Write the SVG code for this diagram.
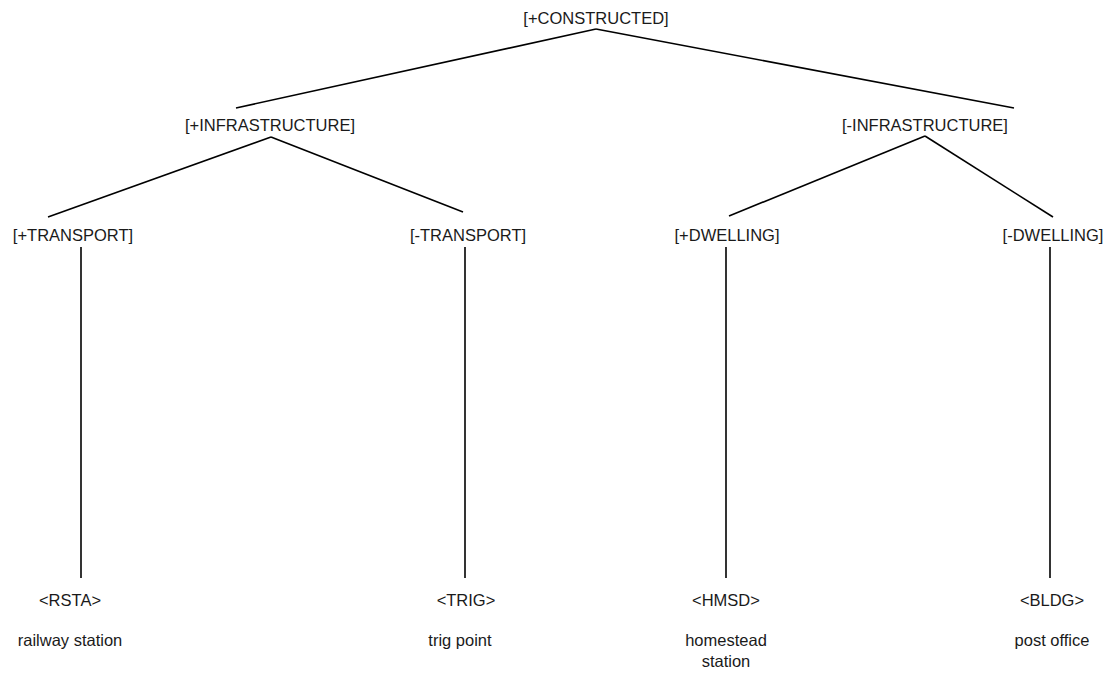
<svg xmlns="http://www.w3.org/2000/svg" width="1112" height="675" viewBox="0 0 1112 675">
  <style>
    .lbl { font-family: "Liberation Sans", Arial, sans-serif; font-size: 16.5px; fill: #1a1a1a; text-anchor: middle; }
    .edge { stroke: #000; stroke-width: 1.6; fill: none; }
  </style>
  <rect width="1112" height="675" fill="#fff"/>
  <g id="connectors">
    <line class="edge" x1="596" y1="29" x2="236" y2="108"/>
    <line class="edge" x1="596" y1="29" x2="1014" y2="108"/>
    <line class="edge" x1="271" y1="137" x2="48" y2="217"/>
    <line class="edge" x1="271" y1="137" x2="463" y2="212"/>
    <line class="edge" x1="925" y1="136" x2="729" y2="216"/>
    <line class="edge" x1="925" y1="136" x2="1053" y2="217"/>
    <line class="edge" x1="81" y1="247" x2="81" y2="578"/>
    <line class="edge" x1="465" y1="247" x2="465" y2="578"/>
    <line class="edge" x1="726" y1="247" x2="726" y2="578"/>
    <line class="edge" x1="1050" y1="247" x2="1050" y2="578"/>
  </g>
  <g id="constructed"><text class="lbl" x="596" y="24">[+CONSTRUCTED]</text></g>
  <g id="infra-plus"><text class="lbl" x="270" y="131">[+INFRASTRUCTURE]</text></g>
  <g id="infra-minus"><text class="lbl" x="925" y="131">[-INFRASTRUCTURE]</text></g>
  <g id="transport-plus"><text class="lbl" x="73" y="241">[+TRANSPORT]</text></g>
  <g id="transport-minus"><text class="lbl" x="468" y="241">[-TRANSPORT]</text></g>
  <g id="dwelling-plus"><text class="lbl" x="727" y="241">[+DWELLING]</text></g>
  <g id="dwelling-minus"><text class="lbl" x="1053" y="241">[-DWELLING]</text></g>
  <g id="rsta">
    <text class="lbl" x="70" y="606">&lt;RSTA&gt;</text>
    <text class="lbl" x="70" y="646">railway station</text>
  </g>
  <g id="trig">
    <text class="lbl" x="466" y="606">&lt;TRIG&gt;</text>
    <text class="lbl" x="460" y="646">trig point</text>
  </g>
  <g id="hmsd">
    <text class="lbl" x="726" y="606">&lt;HMSD&gt;</text>
    <text class="lbl" x="726" y="646">homestead</text>
    <text class="lbl" x="726" y="667">station</text>
  </g>
  <g id="bldg">
    <text class="lbl" x="1052" y="606">&lt;BLDG&gt;</text>
    <text class="lbl" x="1052" y="646">post office</text>
  </g>
</svg>
